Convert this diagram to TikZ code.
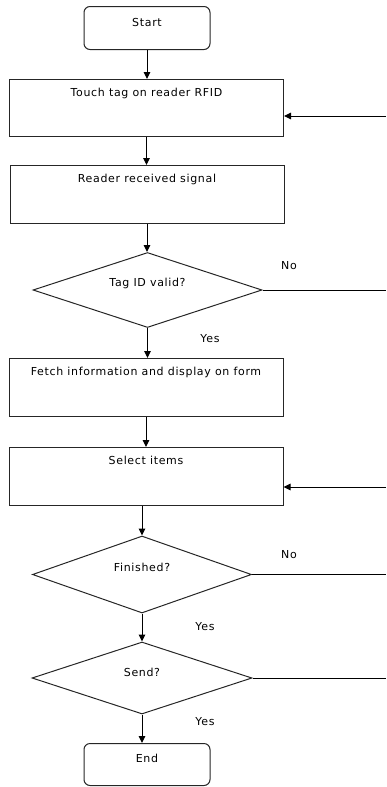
\documentclass[tikz,border=0pt]{standalone}
\usepackage{fontspec}
\setmainfont[LetterSpace=6]{DejaVu Sans}
\usetikzlibrary{shapes.geometric,arrows.meta}
\begin{document}
\begin{tikzpicture}[x=1pt,y=-1pt,
  txt/.style={font=\fontsize{11}{12}\selectfont},
  box/.style={txt, draw=black!85, line width=1pt, inner sep=0pt, minimum width=274pt, anchor=north, text height=17pt, text depth=41pt},
  term/.style={box, rounded corners=6pt, minimum width=126pt},
  dec/.style={draw=black!85, line width=1pt, diamond, inner sep=0pt},
  arr/.style={-{Triangle[length=7pt,width=6.5pt]}, line width=1pt, black},
  ln/.style={line width=1pt, black}]
\useasboundingbox (0,0) rectangle (386,787);
\node[term, text height=20pt, text depth=23pt] (start) at (147,6) {Start};
\node[box, text depth=40pt] (b1) at (146.5,79) {Touch tag on reader RFID};
\node[box] (b2) at (147,165) {Reader received signal};
\node[dec, minimum width=229pt, minimum height=75pt, label={[txt, yshift=7pt]center:Tag ID valid?}] (d1) at (147.5,290) {};
\node[box] (b3) at (146,358) {Fetch information and display on form};
\node[box] (b4) at (146,447) {Select items};
\node[dec, minimum width=219pt, minimum height=77pt, label={[txt, yshift=7pt]center:Finished?}] (d2) at (142,574.5) {};
\node[dec, minimum width=220pt, minimum height=72pt, label={[txt, yshift=6pt]center:Send?}] (d3) at (142,678) {};
\node[term, text height=19pt, text depth=23pt] (end) at (147,743) {End};
\node[txt] (no1) at (289,266) {No};
\node[txt] (yes1) at (210,339) {Yes};
\node[txt] (no2) at (289,555) {No};
\node[txt] (yes2) at (205,627) {Yes};
\node[txt] (yes3) at (205,722) {Yes};
\coordinate (rb) at (386,0);
\coordinate (in1) at (386,116);
\coordinate (in2) at (386,487);
\draw[arr] (start.south) -- (start.south |- b1.north);
\draw[arr] (b1.south) -- (b1.south |- b2.north);
\draw[arr] (b2.south) -- (b2.south |- d1.north);
\draw[arr] (d1.south) -- (d1.south |- b3.north);
\draw[arr] (b3.south) -- (b3.south |- b4.north);
\draw[arr] (d2.north |- b4.south) -- (d2.north);
\draw[arr] (d2.south) -- (d3.north);
\draw[arr] (d3.south) -- (d3.south |- end.north);
\draw[arr] (in1) -- (in1 -| b1.east);
\draw[arr] (in2) -- (in2 -| b4.east);
\draw[ln] (d1.east) -- (d1.east -| rb);
\draw[ln] (d2.east) -- (d2.east -| rb);
\draw[ln] (d3.east) -- (d3.east -| rb);
\end{tikzpicture}
\end{document}
